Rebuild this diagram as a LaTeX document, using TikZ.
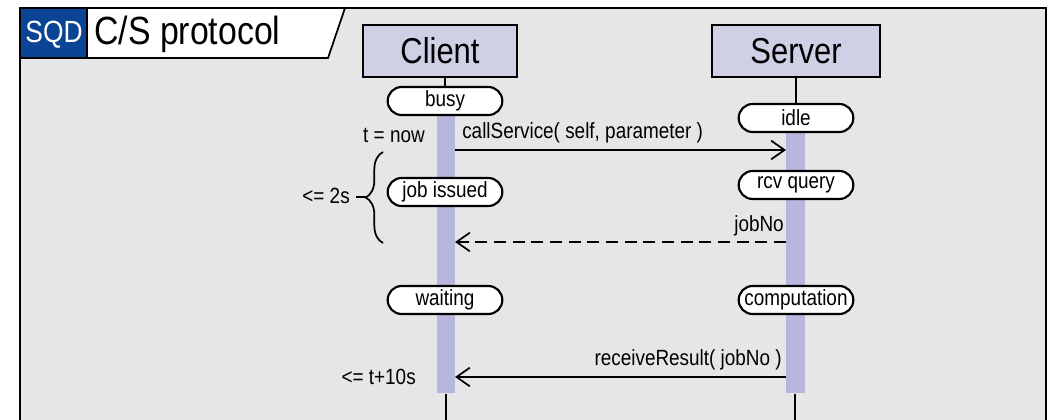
\documentclass[tikz,border=0pt]{standalone}
\usepackage{fontspec}
\setmainfont[FakeStretch=0.86]{Liberation Sans}
\usetikzlibrary{shapes.misc,arrows.meta,decorations.pathreplacing}
\definecolor{bg}{HTML}{E6E6E6}
\definecolor{lifebox}{HTML}{CFCFE6}
\definecolor{barc}{HTML}{B6B6DE}
\definecolor{sqdblue}{HTML}{0B4494}
\tikzset{
  obj/.style={draw=black, line width=1.5pt, fill=lifebox, minimum height=39pt, inner sep=0pt, font=\fontsize{27}{29}\selectfont},
  state/.style={rounded rectangle, draw=black, line width=1.6pt, fill=white, minimum width=86pt, minimum height=21pt, inner xsep=0pt, inner ysep=1pt, font=\fontsize{16.5}{18}\selectfont},
  lbl/.style={inner sep=0pt, font=\fontsize{16.5}{18}\selectfont},
  msg/.style={line width=1.3pt, -{Straight Barb[length=10pt,width=14pt,line width=1.3pt]}},
  bar/.style={fill=barc, draw=none},
  life/.style={line width=1.5pt}
}
\begin{document}
\begin{tikzpicture}[x=0.75pt,y=-0.75pt]
\useasboundingbox (0,0) rectangle (1056,420);
% frame
\fill[white] (0,0) rectangle (1056,420);
\fill[bg] (20,8) rectangle (1046,425);
\draw[line width=1.5pt] (20,425) -- (20,8) -- (1046,8) -- (1046,425);
% title tab
\draw[line width=1.3pt, fill=white] (20,8) -- (345,8) -- (328,58) -- (20,58) -- cycle;
\fill[sqdblue] (21,9) rectangle (87,57);
\draw[line width=1.3pt] (87,9) -- (87,58);
\node[text=white, inner sep=0pt, font=\fontsize{23}{24}\selectfont] (sqd) at (54,35) {SQD};
\node[anchor=west, inner sep=0pt, font=\fontsize{29.5}{31}\selectfont] (title) at (94,34) {C/S protocol};
% lifeline boxes
\node[obj, minimum width=116pt] (client) at (440,51) {Client};
\node[obj, minimum width=126pt] (server) at (796,51) {Server};
% activation bars
\fill[bar] (437,115) rectangle (455,393);
\fill[bar] (786,132) rectangle (805,393);
% lifeline tails
\coordinate (cb) at (446,394);
\coordinate (ce) at (446,420);
\coordinate (sb) at (795,394);
\coordinate (se) at (795,420);
\draw[life] (cb) -- (ce);
\draw[life] (sb) -- (se);
% states
\node[state] (busy) at (445,101) {busy};
\node[state] (idle) at (796,118) {idle};
\node[state] (jobissued) at (445,192) {job issued};
\node[state] (rcv) at (796,185) {rcv query};
\node[state] (waiting) at (445,300) {waiting};
\node[state] (comp) at (796,300) {computation};
\draw[life] (client.south -| busy.north) -- (busy.north);
\draw[life] (server.south -| idle.north) -- (idle.north);
% messages
\coordinate (m1a) at (455,150);
\coordinate (m1b) at (786,150);
\draw[msg] (m1a) -- (m1b);
\node[lbl, anchor=south west] (m1l) at (462,143) {callService( self, parameter )};
\node[lbl, anchor=south east] (tnow) at (425,143) {t = now};
\coordinate (m2a) at (786,242);
\coordinate (m2b) at (455,242);
\draw[msg, dashed, dash pattern=on 9pt off 5pt] (m2a) -- (m2b);
\node[lbl, anchor=south east] (m2l) at (784,236) {jobNo};
\coordinate (m3a) at (786,377);
\coordinate (m3b) at (455,377);
\draw[msg] (m3a) -- (m3b);
\node[lbl, anchor=south east] (m3l) at (782,370) {receiveResult( jobNo )};
\node[lbl, anchor=east] (t10) at (416,377) {<= t+10s};
% brace
\coordinate (br1) at (383,243);
\coordinate (br2) at (383,152);
\draw[line width=1.3pt, decorate, decoration={brace, amplitude=13pt}] (br1) -- (br2);
\coordinate (tip) at (366,197);
\coordinate (tipl) at (356,197);
\draw[line width=1.3pt] (tip) -- (tipl);
\node[lbl, anchor=east] (two) at (350,196) {<= 2s};
\end{tikzpicture}
\end{document}
